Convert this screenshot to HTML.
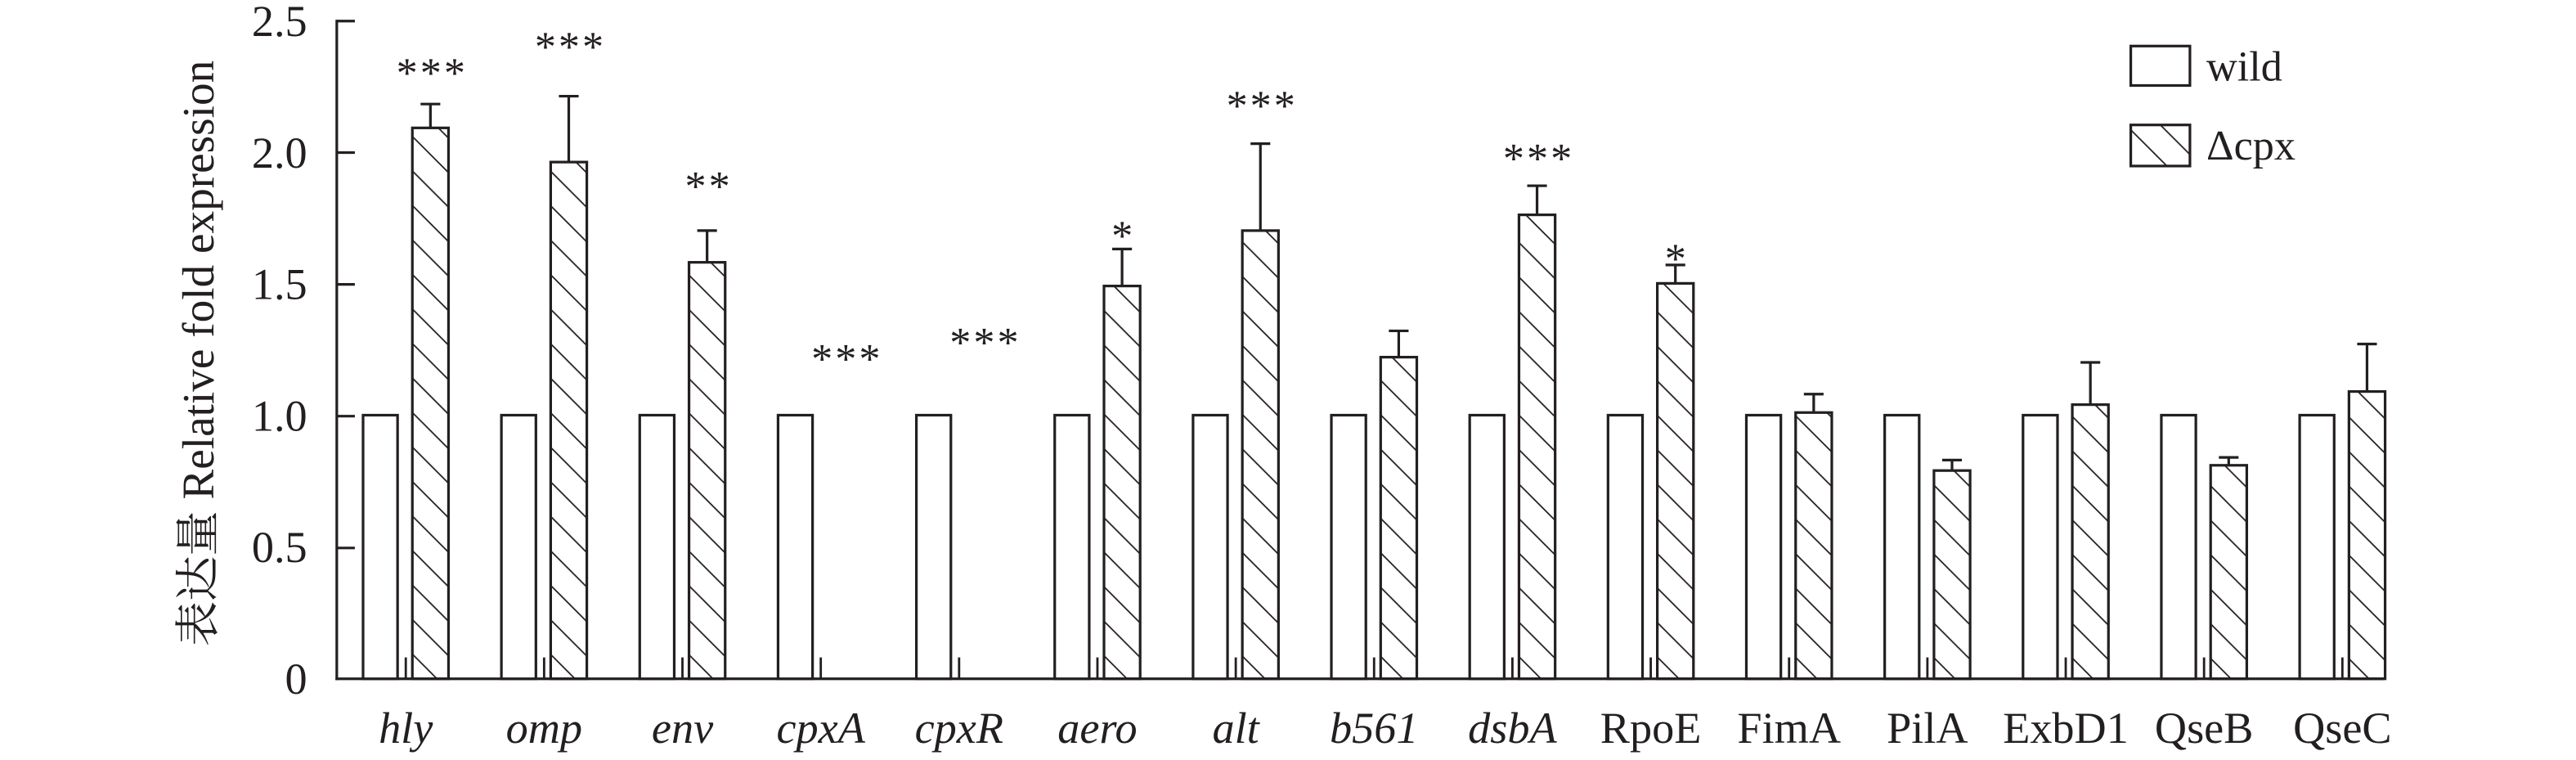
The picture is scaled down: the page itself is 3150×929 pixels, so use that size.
<!DOCTYPE html>
<html><head><meta charset="utf-8"><style>
html,body{margin:0;padding:0;background:#fff;}
svg{display:block;}
text{font-family:"Liberation Serif","Noto Serif CJK SC",serif;fill:#231f20;}
</style></head><body>
<svg width="3150" height="929" viewBox="0 0 1568 462.4" xmlns="http://www.w3.org/2000/svg">
<defs>
<pattern id="h" patternUnits="userSpaceOnUse" width="21" height="21">
<line x1="0" y1="0" x2="21" y2="21" stroke="#231f20" stroke-width="0.9"/>
<line x1="-2" y1="19" x2="2" y2="23" stroke="#231f20" stroke-width="0.9"/>
<line x1="19" y1="-2" x2="23" y2="2" stroke="#231f20" stroke-width="0.9"/>
</pattern>
</defs>
<g stroke="#231f20" stroke-width="1.6" fill="none">
<line x1="205" y1="12" x2="205" y2="413.8"/>
<line x1="204.2" y1="413" x2="1451" y2="413"/>
<line x1="205" y1="12.8" x2="216" y2="12.8"/>
<line x1="205" y1="92.8" x2="216" y2="92.8"/>
<line x1="205" y1="173" x2="216" y2="173"/>
<line x1="205" y1="253.2" x2="216" y2="253.2"/>
<line x1="205" y1="333.4" x2="216" y2="333.4"/>
</g>
<g font-size="27" text-anchor="end">
<text x="187" y="22">2.5</text>
<text x="187" y="102">2.0</text>
<text x="187" y="182">1.5</text>
<text x="187" y="262">1.0</text>
<text x="187" y="342">0.5</text>
<text x="187" y="422">0</text>
</g>
<text transform="translate(130,215) rotate(-90)" font-size="27.5" text-anchor="middle">表达量 Relative fold expression</text>

<g fill="#fff" stroke="#231f20" stroke-width="1.6">
<rect x="221" y="252.6" width="21" height="160.4"/>
<rect x="305.2" y="252.6" width="21" height="160.4"/>
<rect x="389.4" y="252.6" width="21" height="160.4"/>
<rect x="473.6" y="252.6" width="21" height="160.4"/>
<rect x="557.8" y="252.6" width="21" height="160.4"/>
<rect x="642" y="252.6" width="21" height="160.4"/>
<rect x="726.2" y="252.6" width="21" height="160.4"/>
<rect x="810.4" y="252.6" width="21" height="160.4"/>
<rect x="894.6" y="252.6" width="21" height="160.4"/>
<rect x="978.8" y="252.6" width="21" height="160.4"/>
<rect x="1063" y="252.6" width="21" height="160.4"/>
<rect x="1147.2" y="252.6" width="21" height="160.4"/>
<rect x="1231.4" y="252.6" width="21" height="160.4"/>
<rect x="1315.6" y="252.6" width="21" height="160.4"/>
<rect x="1399.8" y="252.6" width="21" height="160.4"/>
</g>
<g stroke="#231f20" stroke-width="1.4">
<line x1="247" y1="400" x2="247" y2="413"/>
<line x1="331.2" y1="400" x2="331.2" y2="413"/>
<line x1="415.4" y1="400" x2="415.4" y2="413"/>
<line x1="499.6" y1="400" x2="499.6" y2="413"/>
<line x1="583.8" y1="400" x2="583.8" y2="413"/>
<line x1="668" y1="400" x2="668" y2="413"/>
<line x1="752.2" y1="400" x2="752.2" y2="413"/>
<line x1="836.4" y1="400" x2="836.4" y2="413"/>
<line x1="920.6" y1="400" x2="920.6" y2="413"/>
<line x1="1004.8" y1="400" x2="1004.8" y2="413"/>
<line x1="1089" y1="400" x2="1089" y2="413"/>
<line x1="1173.2" y1="400" x2="1173.2" y2="413"/>
<line x1="1257.4" y1="400" x2="1257.4" y2="413"/>
<line x1="1341.6" y1="400" x2="1341.6" y2="413"/>
<line x1="1425.8" y1="400" x2="1425.8" y2="413"/>
</g>
<g stroke="#231f20" stroke-width="1.6" fill="none">
<path d="M262 63.3V77.8M256 63.3H268"/>
<path d="M346.2 58.5V98.6M340.2 58.5H352.2"/>
<path d="M430.4 140.3V159.6M424.4 140.3H436.4"/>
<path d="M683 151.5V174M677 151.5H689"/>
<path d="M767.2 87.4V140.3M761.2 87.4H773.2"/>
<path d="M851.4 201.3V217.3M845.4 201.3H857.4"/>
<path d="M935.6 113V130.7M929.6 113H941.6"/>
<path d="M1019.8 161.2V172.4M1013.8 161.2H1025.8"/>
<path d="M1104 239.8V251M1098 239.8H1110"/>
<path d="M1188.2 279.9V286.3M1182.2 279.9H1194.2"/>
<path d="M1272.4 220.5V246.2M1266.4 220.5H1278.4"/>
<path d="M1356.6 278.3V283.1M1350.6 278.3H1362.6"/>
<path d="M1440.8 209.3V238.2M1434.8 209.3H1446.8"/>
</g>
<g fill="url(#h)" stroke="#231f20" stroke-width="1.6">
<rect x="251" y="77.8" width="22" height="335.2"/>
<rect x="335.2" y="98.6" width="22" height="314.4"/>
<rect x="419.4" y="159.6" width="22" height="253.4"/>
<rect x="672" y="174" width="22" height="239"/>
<rect x="756.2" y="140.3" width="22" height="272.7"/>
<rect x="840.4" y="217.3" width="22" height="195.7"/>
<rect x="924.6" y="130.7" width="22" height="282.3"/>
<rect x="1008.8" y="172.4" width="22" height="240.6"/>
<rect x="1093" y="251" width="22" height="162"/>
<rect x="1177.2" y="286.3" width="22" height="126.7"/>
<rect x="1261.4" y="246.2" width="22" height="166.8"/>
<rect x="1345.6" y="283.1" width="22" height="129.9"/>
<rect x="1429.8" y="238.2" width="22" height="174.8"/>
</g>
<g font-size="26" text-anchor="middle" letter-spacing="1.5">
<text x="263" y="53">***</text>
<text x="347.2" y="37">***</text>
<text x="431.4" y="122">**</text>
<text x="515.6" y="227">***</text>
<text x="599.8" y="217">***</text>
<text x="683.8" y="152">*</text>
<text x="768.2" y="73">***</text>
<text x="936.6" y="105">***</text>
<text x="1020.6" y="166">*</text>
</g>
<g font-size="27" text-anchor="middle">
<text x="247" y="452" font-style="italic">hly</text>
<text x="331.2" y="452" font-style="italic">omp</text>
<text x="415.4" y="452" font-style="italic">env</text>
<text x="499.6" y="452" font-style="italic">cpxA</text>
<text x="583.8" y="452" font-style="italic">cpxR</text>
<text x="668" y="452" font-style="italic">aero</text>
<text x="752.2" y="452" font-style="italic">alt</text>
<text x="836.4" y="452" font-style="italic">b561</text>
<text x="920.6" y="452" font-style="italic">dsbA</text>
<text x="1004.8" y="452">RpoE</text>
<text x="1089" y="452">FimA</text>
<text x="1173.2" y="452">PilA</text>
<text x="1257.4" y="452">ExbD1</text>
<text x="1341.6" y="452">QseB</text>
<text x="1425.8" y="452">QseC</text>
</g>
<g stroke="#231f20" stroke-width="1.6" fill="#fff">
<rect x="1297" y="28" width="36" height="24"/>
<rect x="1297" y="76" width="36" height="25" fill="url(#h)"/>
</g>
<text x="1343" y="49" font-size="26">wild</text>
<text x="1343" y="97" font-size="26">Δcpx</text>
</svg>
</body></html>
